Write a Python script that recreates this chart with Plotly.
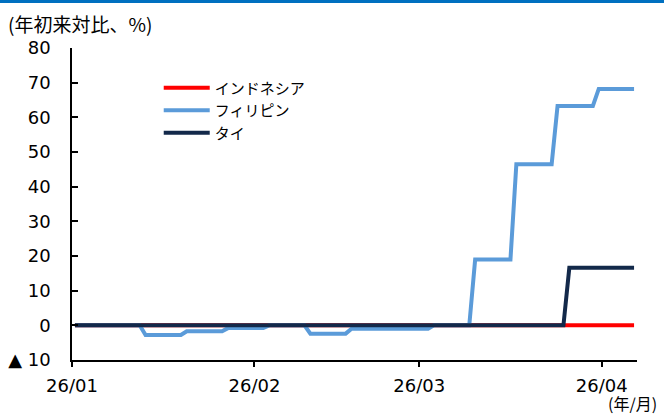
import plotly.graph_objects as go

# ---- data ----
series_names = ["インドネシア", "フィリピン", "タイ"]

idn_dates = ["2026-01-01", "2026-04-06"]
idn_values = [0, 0]

phl_dates = ["2026-01-01", "2026-01-12", "2026-01-13", "2026-01-19", "2026-01-20",
             "2026-01-26", "2026-01-27", "2026-02-02", "2026-02-03", "2026-02-09",
             "2026-02-10", "2026-02-16", "2026-02-17", "2026-03-02", "2026-03-03",
             "2026-03-09", "2026-03-10", "2026-03-16", "2026-03-17", "2026-03-23",
             "2026-03-24", "2026-03-30", "2026-03-31", "2026-04-06"]
phl_values = [0, 0, -2.8, -2.8, -1.7,
              -1.7, -0.8, -0.8, 0, 0,
              -2.4, -2.4, -1.0, -1.0, 0,
              0, 19.0, 19.0, 46.5, 46.5,
              63.3, 63.3, 68.2, 68.2]

tha_dates = ["2026-01-01", "2026-03-25", "2026-03-26", "2026-04-06"]
tha_values = [0, 0, 16.6, 16.6]

x_tick_vals = ["2026-01-01", "2026-02-01", "2026-03-01", "2026-04-01"]
x_tick_text = ["26/01", "26/02", "26/03", "26/04"]
y_tick_vals = [-10, 0, 10, 20, 30, 40, 50, 60, 70, 80]
y_tick_text = ["▲ 10", "0", "10", "20", "30", "40", "50", "60", "70", "80"]

colors = ["#FF0000", "#5B9BD9", "#13294A"]

fig = go.Figure()
for name, xs, ys, c in zip(series_names,
                           [idn_dates, phl_dates, tha_dates],
                           [idn_values, phl_values, tha_values],
                           colors):
    fig.add_trace(go.Scatter(
        x=xs, y=ys, name=name, mode="lines",
        line=dict(color=c, width=4),
        xperiod=86400000, xperiodalignment="middle",
    ))

tick_font = dict(family="DejaVu Sans", size=18, color="#000000")

fig.update_layout(
    width=664, height=417,
    margin=dict(l=72, r=27, t=48, b=57),
    paper_bgcolor="white", plot_bgcolor="white",
    showlegend=True,
    legend=dict(
        x=0.1535, y=0.925, xanchor="left", yanchor="top",
        bgcolor="rgba(0,0,0,0)",
        font=dict(family="Noto Sans CJK JP", size=15, color="#000000"),
        itemwidth=46, tracegroupgap=0,
    ),
    xaxis=dict(
        type="date",
        range=["2026-01-01", "2026-04-07"],
        tickvals=x_tick_vals, ticktext=x_tick_text,
        ticks="outside", ticklen=5, tickwidth=1.5, tickcolor="#000000",
        showline=True, linecolor="#000000", linewidth=1.5,
        showgrid=False, zeroline=False, automargin=False,
        tickfont=tick_font, ticklabelstandoff=4,
    ),
    yaxis=dict(
        range=[-10, 80],
        tickvals=y_tick_vals, ticktext=y_tick_text,
        ticks="inside", ticklen=6, tickwidth=1.5, tickcolor="#000000",
        showline=True, linecolor="#000000", linewidth=1.5,
        showgrid=False, zeroline=False, automargin=False,
        tickfont=tick_font, ticklabelstandoff=16,
    ),
    shapes=[dict(
        type="rect", xref="paper", yref="paper",
        x0=-72 / 565, x1=1 + 27 / 565,
        y0=1 + 45 / 312, y1=1 + 48 / 312,
        fillcolor="#0070C0", line=dict(width=0), layer="above",
    )],
    annotations=[
        dict(text="(年初来対比、%)", xref="paper", yref="paper",
             x=-66 / 565, y=1 + 24.5 / 312, xanchor="left", yanchor="middle",
             showarrow=False,
             font=dict(family="Noto Sans CJK JP", size=19, color="#000000")),
        dict(text="(年/月)", xref="paper", yref="paper",
             x=1 + 22 / 565, y=-57 / 312, xanchor="right", yanchor="bottom",
             showarrow=False,
             font=dict(family="Noto Sans CJK JP", size=16, color="#000000")),
    ],
)

fig.write_html("out.html")
